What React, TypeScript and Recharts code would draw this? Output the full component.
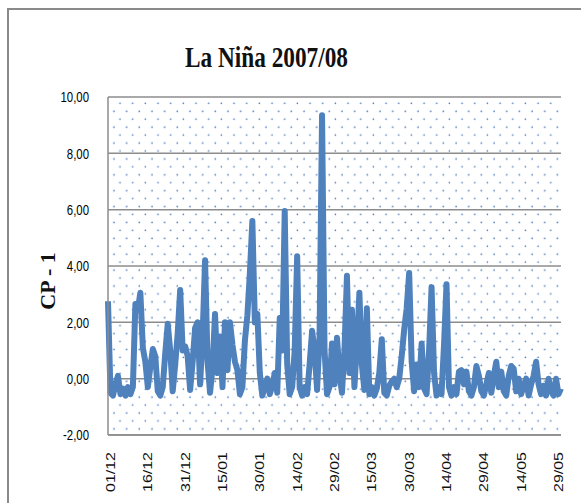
import React from 'react';
import { LineChart, Line, XAxis, YAxis, CartesianGrid } from 'recharts';

const MONTHS: [string, number][] = [
  ['12', 31], ['01', 31], ['02', 29], ['03', 31], ['04', 30], ['05', 31],
];

const DATES: string[] = [];
MONTHS.forEach(([m, n]) => {
  for (let d = 1; d <= n; d++) DATES.push(`${String(d).padStart(2, '0')}/${m}`);
});

const CP1 = [
  2.75, -0.5, -0.6, -0.2, 0.1, -0.55, -0.35, -0.6, -0.3, -0.55,
  -0.3, 2.65, 2.45, 3.05, 1.1, 0.6, -0.3, 0.4, 1.05, 0.8,
  -0.45, -0.6, -0.3, 0.9, 1.95, 1.0, -0.45, 0.5, 1.6, 3.15,
  1.0, 1.15, 0.8, -0.4, 0.6, 1.8, 2.0, -0.2, 1.5, 4.2,
  0.6, -0.5, 0.4, 2.3, 0.2, 1.5, -0.3, 2.0, 0.3, 2.0,
  1.2, 0.6, 0.3, -0.55, -0.3, 1.35, 2.25, 3.75, 5.6, 2.0,
  2.3, 0.2, -0.6, -0.3, 0.0, -0.55, -0.25, 0.2, -0.5, 2.15,
  1.0, 5.95, 0.5, -0.55, -0.3, 1.0, 4.35, -0.3, -0.6, -0.3,
  -0.55, 0.5, 1.7, 1.0, -0.4, 1.5, 9.35, 1.0, -0.55, -0.3,
  1.25, -0.2, 1.45, 0.2, -0.5, 1.0, 3.65, 0.2, 2.45, -0.3,
  1.2, 3.05, 0.5, -0.4, 2.5, -0.55, -0.3, -0.6, -0.35, 0.2,
  1.4, -0.5, -0.6, -0.25, -0.1, 0.0, -0.3, 0.0, 0.8, 1.75,
  2.5, 3.75, 0.6, -0.45, 0.5, -0.3, 1.25, -0.35, -0.55, 1.0,
  3.25, 0.2, -0.6, -0.3, -0.55, 1.2, 3.35, -0.3, -0.6, -0.3,
  -0.55, 0.25, 0.3, -0.2, 0.25, -0.45, -0.6, -0.3, 0.45, 0.1,
  -0.45, -0.6, -0.2, 0.2, -0.5, 0.1, 0.6, -0.3, 0.25, -0.45,
  -0.6, 0.1, 0.45, 0.35, -0.45, 0.0, -0.55, -0.25, 0.0, -0.6,
  -0.2, 0.1, 0.6, -0.2, -0.55, -0.25, -0.6, 0.0, -0.45, -0.6,
  0.0, -0.55, -0.35,
];

const X_TICKS = [
  '01/12', '16/12', '31/12', '15/01', '30/01', '14/02', '29/02',
  '15/03', '30/03', '14/04', '29/04', '14/05', '29/05',
];
const Y_TICKS = [-2, 0, 2, 4, 6, 8, 10];

const TITLE = 'La Niña 2007/08';
const Y_LABEL = 'CP - 1';

const data = DATES.map((date, i) => ({ date, cp: CP1[i] }));

const fmt = (v: number) => v.toFixed(2).replace('.', ',');

const YTick = (props: any) => {
  const { x, y, payload } = props;
  return (
    <g transform={`translate(${x},${y}) scale(0.76,1)`}>
      <text x={0} y={0} dy="0.36em" textAnchor="end" fontSize={15}
        fontFamily="'Liberation Sans', Arial, sans-serif" fill="#000">
        {fmt(payload.value)}
      </text>
    </g>
  );
};

const XTick = (props: any) => {
  const { x, y, payload } = props;
  return (
    <g transform={`translate(${x + 2},${y}) rotate(-90) scale(1,0.85)`}>
      <text x={0} y={0} dy="0.36em" textAnchor="end" fontSize={16}
        fontFamily="'Liberation Sans', Arial, sans-serif" fill="#111">
        {payload.value}
      </text>
    </g>
  );
};

export default function App() {
  return (
    <div style={{ position: 'absolute', left: 0, top: 0, width: 581, height: 503, overflow: 'hidden', background: '#fff' }}>
      <div style={{ position: 'absolute', left: 7, top: 8, width: 580, height: 500, borderTop: '2px solid #8a8a8a', borderLeft: '2px solid #8a8a8a' }} />
      <div style={{ position: 'absolute', left: 0, top: 0 }}>
        <LineChart width={581} height={503} data={data}
          margin={{ top: 97, right: 20, bottom: 18, left: 48 }}>
          <defs>
            <pattern id="dotpat" patternUnits="userSpaceOnUse" x={105} y={94} width={12.67} height={15.88}>
              <circle cx={2.33} cy={9.3} r={0.85} fill="#4f81bd" />
              <circle cx={9.0} cy={1.4} r={0.85} fill="#4f81bd" />
            </pattern>
          </defs>
          <CartesianGrid vertical={false} stroke="#8c8c8c" strokeWidth={1.5} fill="url(#dotpat)" />
          <XAxis dataKey="date" ticks={X_TICKS} interval={0} tickLine={false}
            axisLine={{ stroke: '#8c8c8c', strokeWidth: 1.5 }} height={50} tick={<XTick />} tickMargin={11} />
          <YAxis type="number" domain={[-2, 10]} ticks={Y_TICKS} tickLine={false}
            axisLine={{ stroke: '#8c8c8c', strokeWidth: 1.5 }} width={60} tick={<YTick />} tickMargin={13} />
          <Line type="linear" dataKey="cp" stroke="#4f81bd" strokeWidth={6} dot={false}
            strokeLinejoin="round" isAnimationActive={false} />
        </LineChart>
      </div>
      <svg style={{ position: 'absolute', left: 0, top: 0 }} width={581} height={503}>
        <text x={266.5} y={67} textAnchor="middle" fontSize={30} fontWeight="bold"
          fontFamily="'Liberation Serif', 'Times New Roman', serif" fill="#111"
          textLength={163} lengthAdjust="spacingAndGlyphs">{TITLE}</text>
        <g transform="translate(47,281) rotate(-90)">
          <text x={0} y={0} dy="0.36em" textAnchor="middle" fontSize={22} fontWeight="bold"
            fontFamily="'Liberation Serif', 'Times New Roman', serif" fill="#111">{Y_LABEL}</text>
        </g>
      </svg>
    </div>
  );
}
